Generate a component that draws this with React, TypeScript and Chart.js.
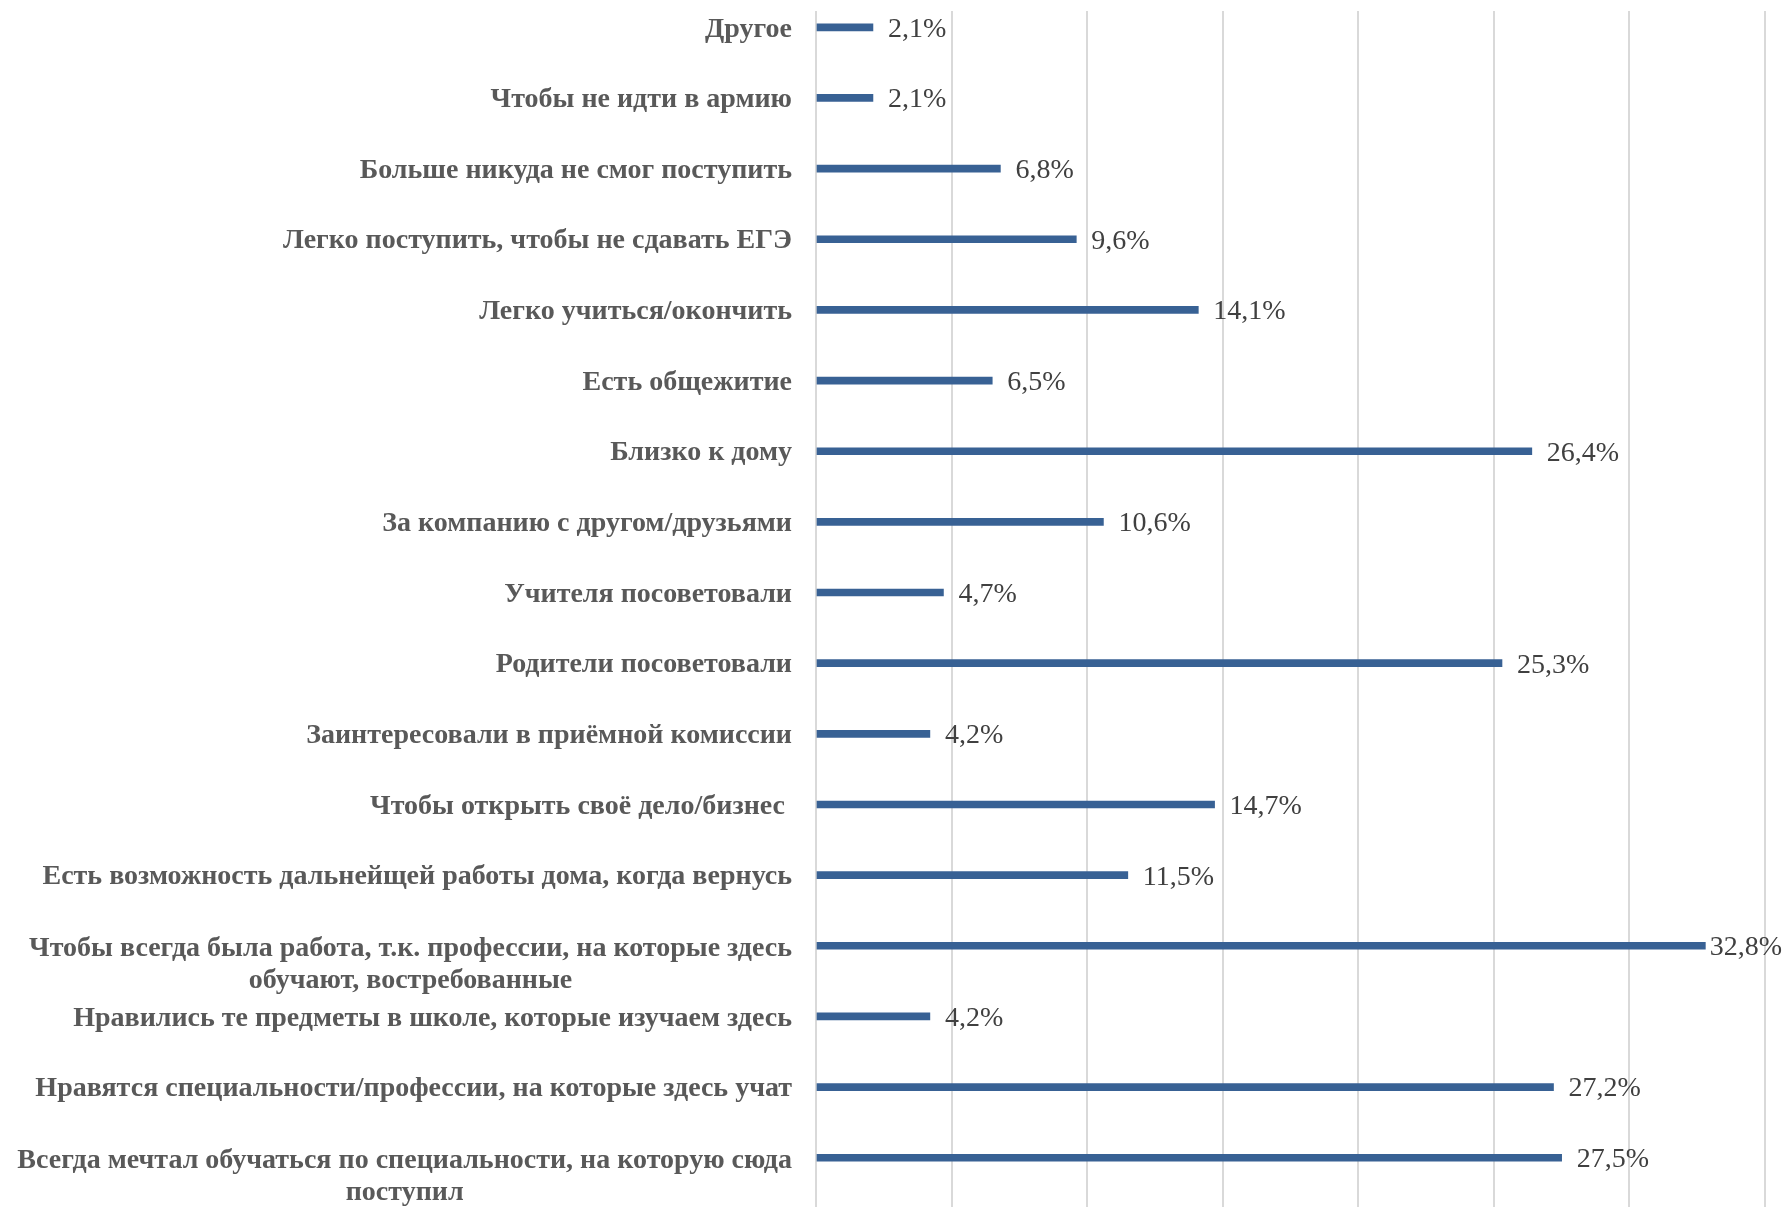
import React, { useEffect, useRef } from "react";
import { Chart, registerables } from "chart.js";

Chart.register(...registerables);

const categories: string[][] = [
  ["Другое"],
  ["Чтобы не идти в армию"],
  ["Больше никуда не смог поступить"],
  ["Легко поступить, чтобы не сдавать ЕГЭ"],
  ["Легко учиться/окончить"],
  ["Есть общежитие"],
  ["Близко к дому"],
  ["За компанию с другом/друзьями"],
  ["Учителя посоветовали"],
  ["Родители посоветовали"],
  ["Заинтересовали в приёмной комиссии"],
  ["Чтобы открыть своё дело/бизнес "],
  ["Есть возможность дальнейщей работы дома, когда вернусь"],
  ["Чтобы всегда была работа, т.к. профессии, на которые здесь", "обучают, востребованные"],
  ["Нравились те предметы в школе, которые изучаем здесь"],
  ["Нравятся специальности/профессии, на которые здесь учат"],
  ["Всегда мечтал обучаться по специальности, на которую сюда", "поступил"],
];

const values: number[] = [
  2.1, 2.1, 6.8, 9.6, 14.1, 6.5, 26.4, 10.6, 4.7, 25.3, 4.2, 14.7, 11.5, 32.8, 4.2, 27.2, 27.5,
];

const xTicksStep = 5;
const xMax = 35;

const LABEL_FONT = 'bold 28px "Liberation Serif"';
const VALUE_FONT = '28px "Liberation Serif"';

const labelPlugin = {
  id: "catLabels",
  afterDraw(chart: any) {
    const ctx = chart.ctx;
    const yScale = chart.scales.y;
    const area = chart.chartArea;
    const right = area.left - 24;
    const lineH = 32;
    ctx.save();
    ctx.font = LABEL_FONT;
    ctx.fillStyle = "#595959";
    ctx.textBaseline = "middle";
    categories.forEach((lines, i) => {
      const y = yScale.getPixelForValue(i) + 2;
      if (lines.length === 1) {
        ctx.textAlign = "right";
        ctx.fillText(lines[0], right, y);
      } else {
        const w = Math.max(...lines.map((l) => ctx.measureText(l).width));
        const cx = right - w / 2;
        ctx.textAlign = "center";
        lines.forEach((l, k) => ctx.fillText(l, cx, y + 1 + k * lineH));
      }
    });
    // value labels
    const meta = chart.getDatasetMeta(0);
    ctx.font = VALUE_FONT;
    ctx.fillStyle = "#404040";
    ctx.textAlign = "left";
    meta.data.forEach((bar: any, i: number) => {
      const txt = values[i].toFixed(1).replace(".", ",") + "%";
      const w = ctx.measureText(txt).width;
      const x = Math.min(bar.x + 15, chart.width - 5 - w);
      ctx.fillText(txt, x, bar.y + 2);
    });
    ctx.restore();
  },
};

export default function App() {
  const ref = useRef<HTMLCanvasElement | null>(null);
  useEffect(() => {
    if (!ref.current) return;
    const chart = new Chart(ref.current, {
      type: "bar",
      data: {
        datasets: [
          {
            data: values.map((v, i) => ({ x: v, y: i })) as any,
            backgroundColor: "#386194",
            borderWidth: 0,
            barThickness: 7,
          },
        ],
      },
      options: {
        indexAxis: "y",
        responsive: false,
        animation: false,
        layout: { padding: { top: 11, right: 22, bottom: 0, left: 0 } },
        plugins: { legend: { display: false }, tooltip: { enabled: false } },
        scales: {
          x: {
            type: "linear",
            position: "bottom",
            min: 0,
            max: xMax,
            ticks: { display: false, stepSize: xTicksStep },
            grid: { color: "#d9d9d9", lineWidth: 2, drawTicks: false },
            border: { display: false },
          },
          y: {
            type: "linear",
            reverse: true,
            offset: false,
            bounds: "data",
            min: -0.2307,
            max: 16.697,
            ticks: { display: false, stepSize: 1, maxTicksLimit: 100, includeBounds: false },
            grid: { display: false, drawTicks: false, offset: false },
            border: { display: false },
            afterFit: (s: any) => {
              s.width = 816;
            },
          },
        },
      },
      plugins: [labelPlugin],
    });
    return () => chart.destroy();
  }, []);
  return (
    <div style={{ position: "absolute", left: 0, top: 0, width: 1787, height: 1207, background: "#fff" }}>
      <canvas ref={ref} width={1787} height={1207} style={{ display: "block" }} />
    </div>
  );
}
